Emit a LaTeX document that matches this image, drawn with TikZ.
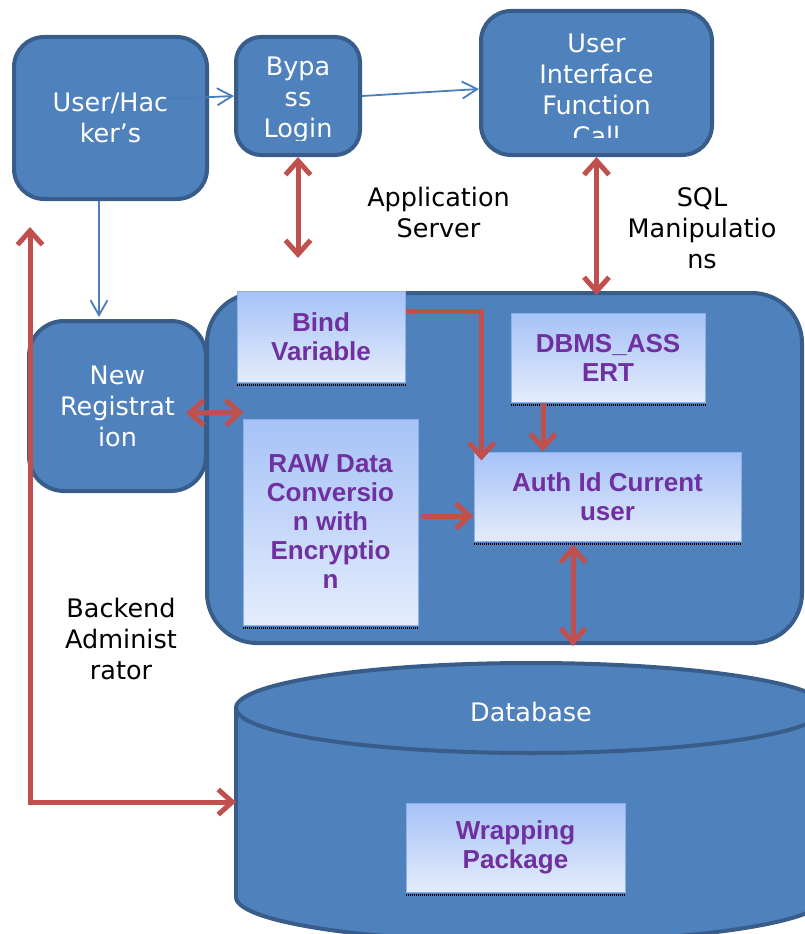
\documentclass[tikz,border=0pt]{standalone}
\usepackage{fontspec}
\setmainfont{DejaVu Sans}
\newfontfamily\boxfont{Liberation Sans}
\usetikzlibrary{arrows.meta,calc}

\definecolor{blockfill}{HTML}{4F81BD}
\definecolor{blockline}{HTML}{385D8A}
\definecolor{flowblue}{HTML}{4A7EBB}
\definecolor{flowred}{HTML}{C0504D}
\definecolor{gradtop}{HTML}{A6C2F7}
\definecolor{gradbot}{HTML}{E3ECFC}
\definecolor{paneline}{HTML}{8EB0E8}
\definecolor{purpletext}{HTML}{7030A0}

\tikzset{
  block/.style={draw=blockline, fill=blockfill, line width=4pt, inner sep=0pt},
  blocktext/.style={text=white, align=center, inner sep=0pt,
    font=\fontsize{25.5}{31}\selectfont},
  plaintext/.style={text=black, align=center, inner sep=0pt,
    font=\fontsize{25.5}{31}\selectfont},
  pane/.style={draw=paneline, line width=1pt, top color=gradtop, bottom color=gradbot,
    inner sep=0pt, text=purpletext, align=center,
    font=\boxfont\bfseries\fontsize{26}{29}\selectfont},
  paneshadow/.style={draw=black, line width=1.6pt, dash pattern=on 1pt off 1pt},
  bluelink/.style={draw=flowblue, line width=1.8pt, -{Straight Barb[length=15pt,width=17pt]}},
  redtip/.tip={Straight Barb[length=14pt,width=25pt]},
  redlink/.style={draw=flowred, line width=5pt, -redtip},
  redboth/.style={draw=flowred, line width=5pt, redtip-redtip},
}

\begin{document}
\begin{tikzpicture}[x=1pt,y=-1pt]
\clip (0,0) rectangle (805,934);
\useasboundingbox (0,0) rectangle (805,934);

% top row of blocks
\node[block, rounded corners=30pt, minimum width=193pt, minimum height=162pt] (user) at (110.5,118) {};
\node[blocktext] (usertext) at (110.5,118) {User/Hac\\ker's};
\node[block, rounded corners=25pt, minimum width=124pt, minimum height=118pt] (bypass) at (298,96) {};
\node[block, rounded corners=30pt, minimum width=231pt, minimum height=144pt] (ui) at (596.5,83) {};
\begin{scope}
  \clip ($(bypass.north west)+(-5,-5)$) rectangle ($(bypass.north east)+(5,105)$);
  \node[blocktext] (bypasstext) at (298,99.7) {Bypa\\ss\\Login};
\end{scope}
\begin{scope}
  \clip ($(ui.north west)+(-5,-5)$) rectangle ($(ui.north east)+(5,128)$);
  \node[blocktext] (uitext) at (596.5,90) {User\\Interface\\Function\\Call};
\end{scope}

% new registration block
\node[block, rounded corners=35pt, minimum width=177pt, minimum height=170pt] (newreg) at (117.5,406) {};
\node[blocktext] (newregtext) at (117.5,406) {New\\Registrat\\ion};

% application server container
\node[block, rounded corners=50pt, minimum width=595pt, minimum height=350pt] (container) at (504.5,468) {};

% panes inside the container
\node[pane, minimum width=168pt, minimum height=91pt] (bind) at (321,336.5) {Bind\\Variable};
\node[pane, minimum width=194pt, minimum height=89pt] (dbms) at (608,357.5) {DBMS\_ASS\\ERT};
\node[pane, minimum width=175pt, minimum height=206pt] (raw) at (330.5,522) {RAW Data\\Conversio\\n with\\Encryptio\\n};
\node[pane, minimum width=267pt, minimum height=89pt] (auth) at (607.5,496.5) {Auth Id Current\\user};
\foreach \p in {bind,dbms,raw,auth}
  \draw[paneshadow] ($(\p.south west)+(0,2.5)$) -- ($(\p.south east)+(0,2.5)$);

% database cylinder
\fill[blockfill] (236,708) rectangle (826,897);
\draw[blockline, line width=4pt, fill=blockfill] (531,897) ellipse [x radius=295, y radius=45];
\fill[blockfill] (236,708) rectangle (826,897);
\draw[blockline, line width=4pt] (236,708) -- (236,897);
\draw[blockline, line width=4pt] (826,708) -- (826,897);
\draw[blockline, line width=4pt, fill=blockfill] (531,708) ellipse [x radius=295, y radius=45];
\node[blocktext] (dbtext) at (531,712.3) {Database};
\coordinate (dbleft) at (236,802);
\node[pane, minimum width=219pt, minimum height=89pt] (wrap) at (515.5,847.5) {Wrapping\\Package};
\draw[paneshadow] ($(wrap.south west)+(0,2.5)$) -- ($(wrap.south east)+(0,2.5)$);

% free labels
\node[plaintext] (appserver) at (438.5,212.8) {Application\\Server};
\node[plaintext] (sqlman) at (702,228.7) {SQL\\Manipulatio\\ns};
\node[plaintext] (backend) at (121,639.3) {Backend\\Administ\\rator};

% blue links
\draw[bluelink] ($(user.east)+(-43,-19)$) -- (bypass.west);
\draw[bluelink] (bypass.east) -- ($(ui.west)+(0,6)$);
\draw[bluelink] ($(user.south)+(-11.5,0)$) -- ($(newreg.north)+(-18.5,-2)$);

% red links
\coordinate (bypassend) at (298,258);
\draw[redboth] (bypass.south) -- (bypassend);
\draw[redboth] (ui.south) -- ($(ui.south |- container.north)+(0,4)$);
\draw[redboth] ($(newreg.east)+(-22,7)$) -- ($(raw.north west)+(1,-6)$);
\draw[redlink] ($(bind.north east)+(0,21)$) -| ($(auth.north west)+(8,9)$);
\draw[redlink] ($(dbms.south)+(-65,0)$) -- ($(auth.north)+(-64.5,0)$);
\draw[redlink] ($(raw.east)+(3,-6)$) -- ($(auth.west)+(0,19.5)$);
\draw[redboth] ($(auth.south)+(-34.5,3)$) -- ($(auth.south |- container.south)+(-34.5,1)$);
\coordinate (admintop) at (30,227);
\draw[redboth] (admintop) |- (dbleft);
\end{tikzpicture}
\end{document}
